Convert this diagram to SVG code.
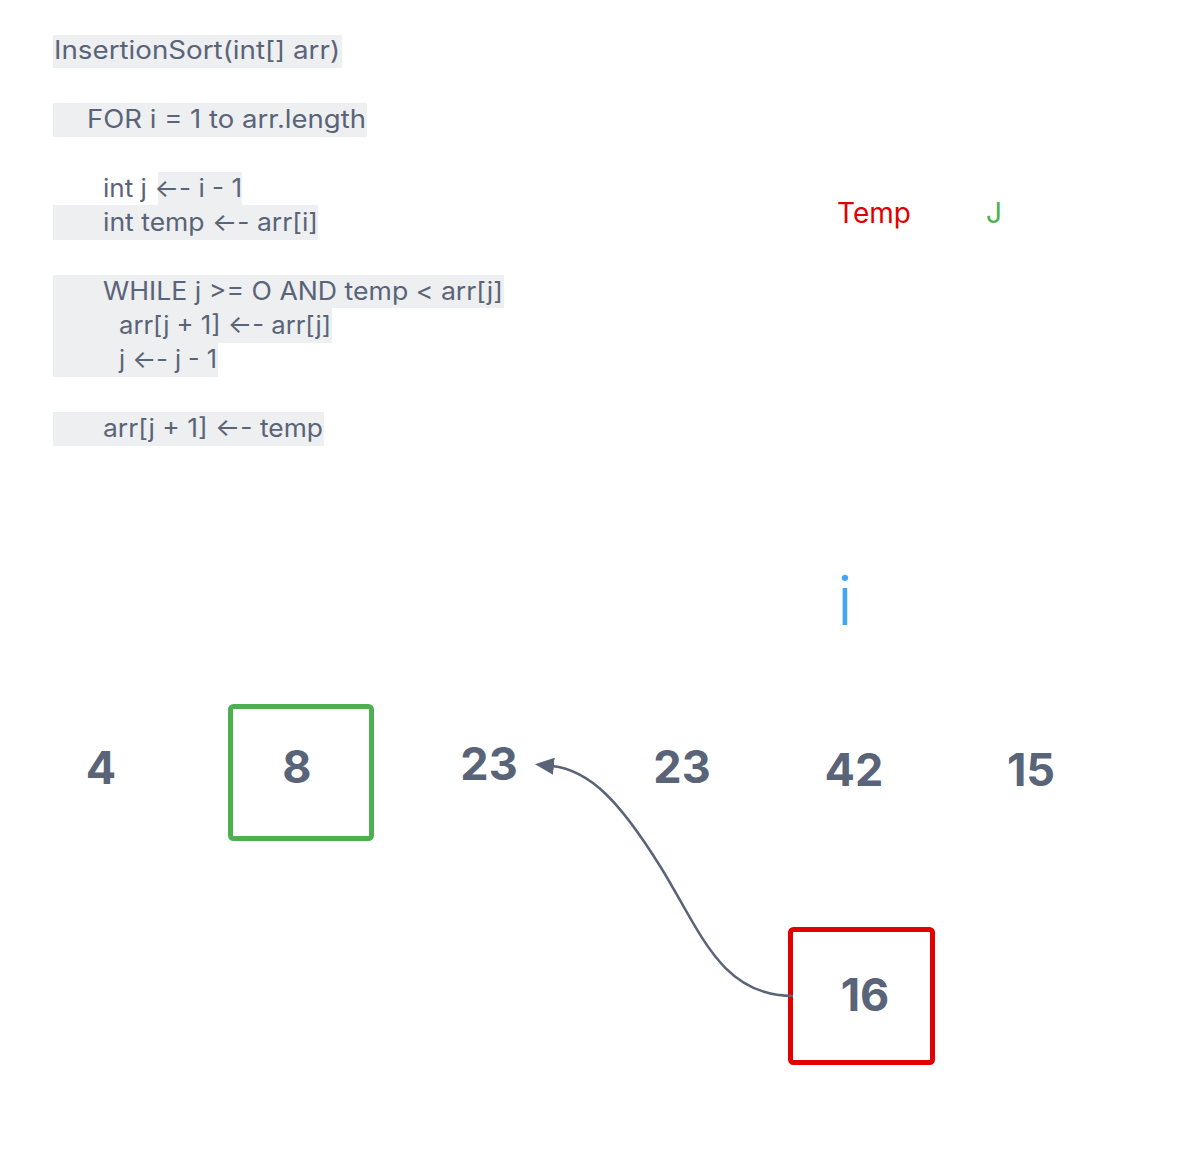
<svg xmlns="http://www.w3.org/2000/svg" width="1182" height="1156" viewBox="0 0 1182 1156">
<style>
.hl{fill:#eeeff1}
.code{font-family:Inter,"Liberation Sans",sans-serif;font-size:25px;fill:#5a6478}
.num{font-family:Inter,"Liberation Sans",sans-serif;font-size:45px;font-weight:700;fill:#5a6478;text-anchor:middle}
.box{fill:none;stroke-width:5}
</style>
<defs>
<marker id="ah" viewBox="0 0 10 10" refX="1" refY="5" markerWidth="19" markerHeight="19" markerUnits="userSpaceOnUse" orient="auto">
<path d="M0,0.5 L10,5 L0,9.5 Z" fill="#5a6478"/>
</marker>
</defs>
<rect width="1182" height="1156" fill="#ffffff"/>
<g id="code">
<rect class="hl" x="53" y="35" width="289" height="33"/>
<rect class="hl" x="53" y="103" width="314" height="34"/>
<rect class="hl" x="158" y="172" width="84" height="33"/>
<rect class="hl" x="53" y="205" width="265" height="35"/>
<rect class="hl" x="53" y="275" width="451" height="33"/>
<rect class="hl" x="53" y="308" width="279" height="35"/>
<rect class="hl" x="53" y="343" width="165" height="34"/>
<rect class="hl" x="53" y="412" width="271" height="34"/>
<text class="code" x="54" y="59" textLength="286" lengthAdjust="spacingAndGlyphs">InsertionSort(int[] arr)</text>
<text class="code" x="87" y="128" textLength="279" lengthAdjust="spacingAndGlyphs">FOR i = 1 to arr.length</text>
<text class="code" x="103" y="197" textLength="139" lengthAdjust="spacingAndGlyphs">int j ←- i - 1</text>
<text class="code" x="103" y="231" textLength="215" lengthAdjust="spacingAndGlyphs">int temp ←- arr[i]</text>
<text class="code" x="103" y="300" textLength="400" lengthAdjust="spacingAndGlyphs">WHILE j &gt;= O AND temp &lt; arr[j]</text>
<text class="code" x="119" y="334" textLength="212" lengthAdjust="spacingAndGlyphs">arr[j + 1] ←- arr[j]</text>
<text class="code" x="119" y="368" textLength="98" lengthAdjust="spacingAndGlyphs">j ←- j - 1</text>
<text class="code" x="103" y="437" textLength="220" lengthAdjust="spacingAndGlyphs">arr[j + 1] ←- temp</text>
</g>
<g id="labels">
<text x="837" y="223" font-family="Inter,'Liberation Sans',sans-serif" font-size="28" fill="#e00000">Temp</text>
<text x="986" y="223" font-family="Inter,'Liberation Sans',sans-serif" font-size="28" fill="#4caf50">J</text>
<text x="845" y="625" font-family="Inter,'Liberation Sans',sans-serif" font-size="68" font-weight="300" fill="#42a5f5" text-anchor="middle">i</text>
</g>
<g id="n4"><text class="num" x="101" y="784">4</text></g>
<g id="n8">
<rect class="box" x="230.5" y="706.5" width="141" height="132" rx="3" stroke="#4caf50"/>
<text class="num" x="297" y="783">8</text>
</g>
<g id="n23a"><text class="num" x="489" y="780">23</text></g>
<g id="n23b"><text class="num" x="682" y="783">23</text></g>
<g id="n42"><text class="num" x="854" y="786">42</text></g>
<g id="n15"><text class="num" x="1031" y="786">15</text></g>
<g id="n16">
<rect class="box" x="790.5" y="929.5" width="142" height="133" rx="3" stroke="#e00000"/>
<text class="num" x="865" y="1011">16</text>
</g>
<g id="connectors">
<path d="M 793 996 C 720 996, 700 930, 660 866 S 590 770, 552 766" fill="none" stroke="#5a6478" stroke-width="2.5" marker-end="url(#ah)"/>
</g>
</svg>
